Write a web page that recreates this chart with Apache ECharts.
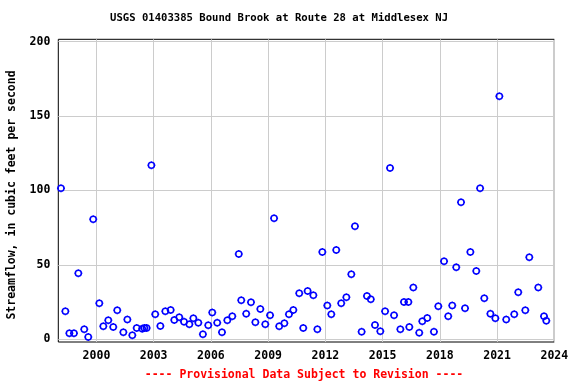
<!DOCTYPE html>
<html>
<head>
<meta charset="utf-8">
<script src="https://cdn.jsdelivr.net/npm/echarts@6/dist/echarts.min.js"></script>
<style>html,body{margin:0;padding:0;background:#fff}#c{width:576px;height:384px}</style>
</head>
<body>
<div id="c"></div>
<script>
var titleText = 'USGS 01403385 Bound Brook at Route 28 at Middlesex NJ';
var yAxisTitle = 'Streamflow, in cubic feet per second';
var footerText = '---- Provisional Data Subject to Revision ----';
var xTicks = [2000, 2003, 2006, 2009, 2012, 2015, 2018, 2021, 2024];
var yTicks = [0, 50, 100, 150, 200];
var years = [1998.14,1998.37,1998.58,1998.82,1999.05,1999.36,1999.57,1999.83,2000.15,2000.36,2000.62,2000.88,2001.09,2001.41,2001.62,2001.88,2002.11,2002.40,2002.51,2002.63,2002.88,2003.08,2003.35,2003.61,2003.89,2004.08,2004.34,2004.59,2004.87,2005.08,2005.34,2005.58,2005.86,2006.07,2006.33,2006.58,2006.86,2007.12,2007.46,2007.59,2007.85,2008.10,2008.33,2008.59,2008.85,2009.10,2009.31,2009.58,2009.85,2010.09,2010.32,2010.63,2010.84,2011.07,2011.37,2011.58,2011.84,2012.10,2012.31,2012.57,2012.83,2013.10,2013.36,2013.55,2013.90,2014.18,2014.38,2014.60,2014.88,2015.13,2015.39,2015.60,2015.93,2016.12,2016.35,2016.40,2016.61,2016.92,2017.08,2017.34,2017.69,2017.92,2018.22,2018.44,2018.65,2018.86,2019.11,2019.32,2019.60,2019.91,2020.11,2020.33,2020.65,2020.91,2021.12,2021.48,2021.90,2022.11,2022.48,2022.69,2023.16,2023.46,2023.58];
var flows = [101.5,18.8,4.0,4.0,44.4,6.7,1.5,80.6,24.2,8.7,12.8,8.3,19.5,4.7,13.4,2.7,7.6,7.1,7.6,7.6,116.9,16.8,8.9,18.8,19.7,13.0,14.8,11.8,10.1,14.1,11.2,3.4,9.4,18.1,11.2,4.7,12.8,15.5,57.3,26.2,17.2,24.9,11.4,20.4,10.1,16.1,81.3,8.7,10.8,16.8,19.7,30.9,7.6,32.5,29.6,6.7,58.7,22.8,16.8,60.0,24.2,28.2,43.7,75.9,5.1,29.1,26.9,9.6,5.4,18.8,115.1,16.1,6.7,25.1,25.1,8.3,34.9,4.4,12.1,14.3,5.1,22.2,52.4,15.5,22.8,48.4,92.1,20.8,58.7,45.9,101.5,27.6,17.2,14.1,163.3,13.4,16.8,31.6,19.5,55.1,34.9,15.5,12.5];

var points = years.map(function (y, i) { return [y, flows[i]]; });
var FONT = '"DejaVu Sans Mono", monospace';
var chart = echarts.init(document.getElementById('c'), null, {renderer: 'canvas'});
chart.setOption({
  animation: false,
  backgroundColor: '#fff',
  grid: {left: 58.3, right: 21.7, top: 39.3, bottom: 42, show: true, borderColor: '#000', borderWidth: 1, backgroundColor: 'transparent'},
  xAxis: {
    type: 'value', min: 1998, max: 2024,
    axisLine: {show: false},
    axisTick: {show: false, customValues: xTicks},
    axisLabel: {customValues: xTicks, formatter: function (v) { return String(Math.round(v)); }, color: '#000', fontFamily: FONT, fontWeight: 'bold', fontSize: 11.5, margin: 8},
    splitLine: {show: true, lineStyle: {color: '#cccccc', width: 1}}
  },
  yAxis: {
    type: 'value', min: -1.8, max: 201.6,
    axisLine: {show: false},
    axisTick: {show: false, customValues: yTicks},
    axisLabel: {customValues: yTicks, formatter: function (v) { return String(Math.round(v)); }, color: '#000', fontFamily: FONT, fontWeight: 'bold', fontSize: 11.5, margin: 8},
    splitLine: {show: true, lineStyle: {color: '#cccccc', width: 1}}
  },
  series: [{
    type: 'scatter',
    data: points,
    symbol: 'path://M7,4A3,3,0,1,1,1,4A3,3,0,1,1,7,4ZM4,0L4,1M4,7L4,8M0,4L1,4M7,4L8,4',
    symbolSize: 8,
    itemStyle: {color: 'transparent', borderColor: '#0000ff', borderWidth: 1.5, opacity: 1}
  }],
  graphic: [
    {type: 'text', left: 110, top: 13, style: {text: titleText, fill: '#000', font: 'bold 10.6px ' + FONT}},
    {type: 'text', x: 12, y: 195, rotation: Math.PI / 2, style: {text: yAxisTitle, fill: '#000', font: 'bold 11.5px ' + FONT, align: 'center', verticalAlign: 'middle'}},
    {type: 'text', x: 304, y: 375, style: {text: footerText, fill: '#ff0000', font: 'bold 11.5px ' + FONT, align: 'center', verticalAlign: 'middle'}}
  ]
});
</script>
</body>
</html>
